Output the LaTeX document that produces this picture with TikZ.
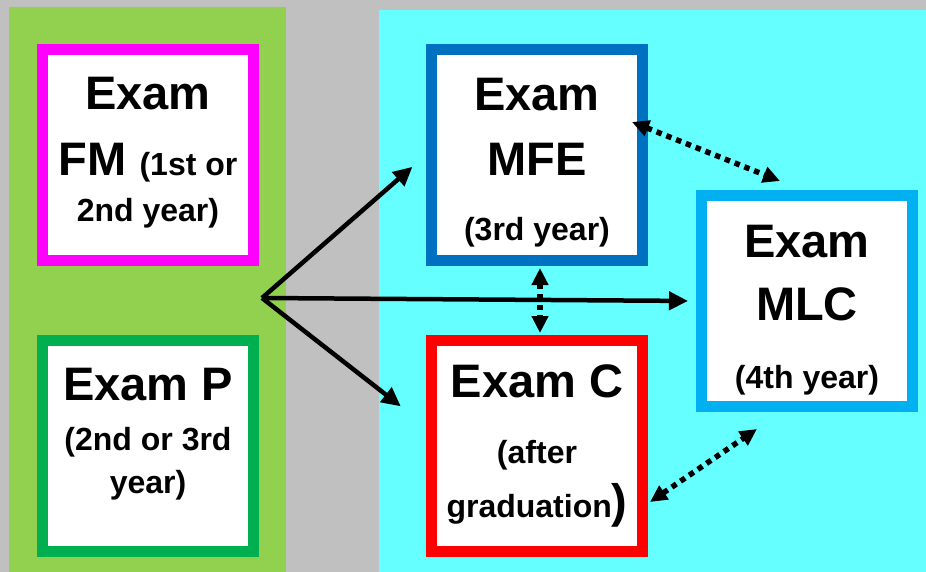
\documentclass[tikz,border=0pt]{standalone}
\usepackage{fontspec}
\setmainfont{Liberation Sans}
\usetikzlibrary{arrows.meta, positioning}
\definecolor{bggray}{HTML}{C0C0C0}
\definecolor{panelgreen}{HTML}{92D050}
\definecolor{panelcyan}{HTML}{66FFFF}
\definecolor{fmmagenta}{HTML}{FF00FF}
\definecolor{pgreen}{HTML}{00B050}
\definecolor{mfeblue}{HTML}{0070C0}
\definecolor{cred}{HTML}{FF0000}
\definecolor{mlcblue}{HTML}{00B0F0}
\newcommand{\bigtxt}{\bfseries\fontsize{47}{43}\selectfont}
\newcommand{\smalltxt}{\bfseries\fontsize{32}{43}\selectfont}
\tikzset{
  exam/.style={rectangle, draw, line width=11pt, fill=white, minimum width=211pt, minimum height=211pt, inner sep=0pt, align=center, font=\bigtxt},
  arrow/.style={-{Triangle[length=19pt, width=18pt]}, line width=4.5pt},
  dotarrow/.style={{Triangle[length=17pt, width=16pt]}-{Triangle[length=17pt, width=16pt]}, line width=5.5pt, dash pattern=on 5.5pt off 5pt}
}

\begin{document}
\begin{tikzpicture}[x=1pt, y=-1pt]
  % Background
  \fill[bggray] (0,0) rectangle (926,572);
  \useasboundingbox (0,0) rectangle (926,572);
  \fill[panelgreen] (9,7) rectangle (286,572);
  \fill[panelcyan] (379,10) rectangle (926,572);

  % Nodes
  \node[exam, draw=fmmagenta] (fm) at (148,155) {Exam\\[23pt] FM \smalltxt(1st or\\[3pt] {\smalltxt 2nd year)\rule[-12pt]{0pt}{0pt}}};
  \node[exam, draw=pgreen, below=69pt of fm] (p) {Exam P\\[7pt] {\smalltxt (2nd or 3rd}\\ {\smalltxt year)\rule[-31pt]{0pt}{0pt}}};
  \node[exam, draw=mfeblue, right=167pt of fm] (mfe) {\rule{0pt}{47pt}Exam\\[22pt] MFE\\[22pt] {\smalltxt (3rd year)}};
  \node[exam, draw=cred, below=69pt of mfe] (c) {Exam C\\[23pt] {\smalltxt (after}\\[11pt] {\smalltxt graduation\bigtxt)}};
  \node[exam, draw=mlcblue] (mlc) at (807,301) {\rule{0pt}{50pt}Exam\\[20pt] MLC\\[25pt] {\smalltxt (4th year)}};

  % Connections
  \coordinate (hub) at (262,298);
  \draw[arrow, shorten >=18pt] (hub) -- (mfe.west);
  \draw[arrow, shorten >=8pt] (hub) -- (mlc.west);
  \draw[arrow, shorten >=32pt] (hub) -- ([yshift=20pt]c.west);
  \draw[dotarrow] ([xshift=-16pt, yshift=33pt]mfe.east) -- ([xshift=-27pt, yshift=9pt]mlc.north);
  \draw[dotarrow] ([xshift=3pt, yshift=-2pt]mfe.south) -- ([xshift=3pt, yshift=2pt]c.north);
  \draw[dotarrow] ([xshift=2pt, yshift=-56pt]c.east) -- ([xshift=-50pt, yshift=-17pt]mlc.south);
\end{tikzpicture}
\end{document}
